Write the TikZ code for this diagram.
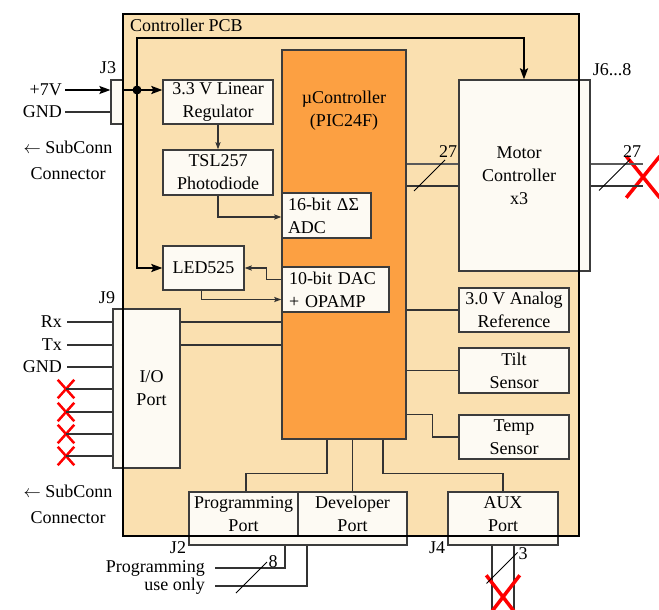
\documentclass[tikz,border=0pt]{standalone}
\usepackage{fontspec}
\setmainfont{Liberation Serif}
\usepackage{tikz}
\usetikzlibrary{arrows.meta, positioning, shapes.misc, calc}
\definecolor{pcbFill}{RGB}{250,224,176}
\definecolor{boxFill}{RGB}{253,250,243}
\definecolor{ucFill}{RGB}{252,160,66}
\definecolor{edgeGray}{RGB}{60,60,60}

\tikzset{
  blk/.style={draw=edgeGray, fill=boxFill, line width=1.3pt, inner xsep=2pt,
              inner ysep=0pt, align=center},
  lbl/.style={inner sep=0pt},
  wire/.style={draw=black!80, line width=1.3pt},
  pwr/.style={draw=black, line width=2pt},
  arr/.style={-{Stealth[length=7pt,width=5pt,inset=1pt]}},
  bigarr/.style={-{Stealth[length=11pt,width=8pt,inset=2pt]}},
  busmark/.style={black, line width=0.9pt},
  nc/.style={cross out, draw=red, line width=2.5pt, minimum width=14pt,
             minimum height=16pt, inner sep=0pt},
}

\begin{document}
\begin{tikzpicture}[x=1pt,y=-1pt,font=\fontsize{18}{23}\selectfont]
  \useasboundingbox (0,0) rectangle (659,610);
  \clip (0,0) rectangle (659,610);
  \fill[white] (0,0) rectangle (659,610);

  % board
  \fill[pcbFill] (123,14) rectangle (579,536);
  \node[lbl, anchor=west] (pcblbl) at (130,25) {Controller PCB};

  % microcontroller and its peripherals
  \node[blk, fill=ucFill, minimum width=124pt, minimum height=389pt] (uc) at (344,244.5) {};
  \node[lbl, align=center] (uclbl) at (344,111) {µController\\(PIC24F)};
  \node[blk, align=left, text width=77pt, inner xsep=6pt, minimum height=45pt] (adc) at (326.5,215.5)
    {16-bit ΔΣ\\ADC};
  \node[blk, align=left, text width=93pt, inner xsep=7pt, minimum height=45pt] (dac) at (335.5,289.5)
    {10-bit DAC\\+ OPAMP};

  \node[blk, minimum width=12pt, minimum height=44pt] (j3) at (117,102) {};
  \node[blk, minimum width=110pt, minimum height=44pt] (reg) at (218,102) {3.3 V Linear\\Regulator};
  \node[blk, minimum width=110pt, minimum height=45pt] (tsl) at (218,172.5) {TSL257\\Photodiode};
  \node[blk, minimum width=81pt, minimum height=44pt] (led) at (203.5,268) {LED525};

  \node[blk, minimum width=120pt, minimum height=191pt] (motor) at (519,175.5) {Motor\\Controller\\x3};
  \node[blk, minimum width=11pt, minimum height=191pt] (j6) at (584.5,175.5) {};
  \node[blk, minimum width=110pt, minimum height=44pt] (ref) at (514,310) {3.0 V Analog\\Reference};
  \node[blk, minimum width=110pt, minimum height=45pt] (tilt) at (514,370.5) {Tilt\\Sensor};
  \node[blk, minimum width=110pt, minimum height=44pt] (temp) at (514,437) {Temp\\Sensor};

  \node[blk, minimum width=10pt, minimum height=159pt] (j9) at (118,388.5) {};
  \node[blk, minimum width=57pt, minimum height=159pt] (io) at (151.5,388.5) {I/O\\Port};

  \node[blk, minimum width=109pt, minimum height=44pt] (prog) at (243.5,514) {Programming\\Port};
  \node[blk, minimum width=109pt, minimum height=44pt] (dev) at (352.5,514) {Developer\\Port};
  \node[blk, minimum width=218pt, minimum height=9pt] (j2) at (298,540.5) {};
  \node[blk, minimum width=110pt, minimum height=44pt] (aux) at (503,514) {AUX\\Port};
  \node[blk, minimum width=110pt, minimum height=9pt] (j4) at (503,540.5) {};

  \draw[black, line width=1.3pt] (123,14) rectangle (579,536);

  % connector labels
  \node[lbl] (j3lbl) at (108,68) {J3};
  \node[lbl] (j9lbl) at (107,298) {J9};
  \node[lbl] (j2lbl) at (178,548) {J2};
  \node[lbl] (j4lbl) at (437,548) {J4};
  \node[lbl] (j6lbl) at (612,70) {J6...8};
  \node[lbl, align=center, font=\fontsize{18}{26}\selectfont] (sub1) at (68,160) {$\leftarrow$ SubConn\\Connector};
  \node[lbl, align=center, font=\fontsize{18}{26}\selectfont] (sub2) at (68,504) {$\leftarrow$ SubConn\\Connector};

  % power input
  \node[lbl, anchor=east] (v7) at (62,90) {+7V};
  \node[lbl, anchor=east] (gnd) at (62,112) {GND};
  \draw[black, line width=1.5pt, bigarr] ([xshift=3pt]v7.east) -- (v7 -| j3.west);
  \draw[wire] ([xshift=3pt]gnd.east) -- (gnd -| j3.west);

  \coordinate (jn) at (137,90);
  \coordinate (topbend) at (137,38);
  \draw[pwr] (j3.east |- jn) -- (jn);
  \draw[pwr, bigarr] (jn) -- (jn -| reg.west);
  \draw[pwr, bigarr] (jn) -- (topbend) -| ([xshift=5pt]motor.north);
  \draw[pwr, bigarr] (jn) |- (led.west);
  \fill (jn) circle (4.5);

  % analog chain
  \draw[wire, arr] (reg.south) -- (tsl.north);
  \draw[wire, arr] (tsl.south) |- ([yshift=-1.5pt]adc.west);
  \draw[wire, arr] ([yshift=10pt]dac.west) -| ([xshift=22pt]led.east) -- (led.east);
  \draw[wire, arr] ([xshift=-2pt]led.south) |- ([yshift=-10pt]dac.west);

  % serial port
  \foreach \y in {322,345}
    \draw[wire] (io.east |- 0,\y) -- (uc.west |- 0,\y);
  \foreach \nm/\txt/\y in {rx/Rx/322, tx/Tx/345, gn/GND/367} {
    \node[lbl, anchor=east] (\nm) at (62,\y) {\txt};
    \draw[wire] ([xshift=5pt]\nm.east) -- (\nm -| j9.west);
  }
  \foreach \i/\y in {1/389, 2/412, 3/434, 4/456} {
    \node[nc] (ncl\i) at (66,\y) {};
    \draw[wire] (ncl\i.center) -- (ncl\i -| j9.west);
  }

  % motor bus
  \node[nc, minimum width=30pt, minimum height=38pt, line width=3.5pt] (ncm) at (643,177) {};
  \draw[wire, black!65] (uc.east |- 0,164) -- (motor.west |- 0,164);
  \draw[wire] (uc.east |- 0,186) -- (motor.west |- 0,186);
  \draw[wire, black!65] (j6.east |- 0,164) -- (ncm.center |- 0,164);
  \draw[wire] (j6.east |- 0,186) -- (ncm.center |- 0,186);

  % right side peripherals
  \draw[wire] (uc.east |- ref.west) -- (ref.west);
  \draw[wire] (uc.east |- tilt.west) -- (tilt.west);
  \draw[wire] (uc.east |- temp.north) -- ++(26,0) |- (temp.west);

  % bottom ports
  \draw[wire] ([xshift=-17pt]uc.south) -- ++(0,34) -| ([xshift=2.5pt]prog.north);
  \draw[wire] (dev.north |- uc.south) -- (dev.north);
  \draw[wire] ([xshift=39pt]uc.south) -- ++(0,34) -| (aux.north);

  \node[lbl, anchor=east, align=right, font=\fontsize{18}{18}\selectfont] (pgmlbl) at (205,577)
    {Programming\\use only};
  \coordinate (pe1) at (215,568);
  \coordinate (pe2) at (215,586);
  \draw[wire] ([xshift=-13pt]j2.south) |- (pe1);
  \draw[wire] ([xshift=9pt]j2.south) |- (pe2);

  \coordinate (ae) at (503,616);
  \draw[wire] ([xshift=-11pt]j4.south) -- ([xshift=-11pt]ae);
  \draw[wire] ([xshift=11pt]j4.south) -- ([xshift=11pt]ae);
  \node[nc, minimum width=30pt, minimum height=40pt, line width=3.5pt] (nca) at (503,597) {};

  % bus width marks
  \foreach \cx/\cy/\lx/\ly/\n [count=\k] in {429.5/175.5/448/152/27, 614.5/175/632/152/27,
                                             251.5/577.5/273/562/8, 502/568/523/554/3} {
    \draw[busmark] (\cx-15.5,\cy+15.5) -- (\cx+15.5,\cy-15.5);
    \node[lbl] (bw\k) at (\lx,\ly) {\n};
  }
\end{tikzpicture}
\end{document}
